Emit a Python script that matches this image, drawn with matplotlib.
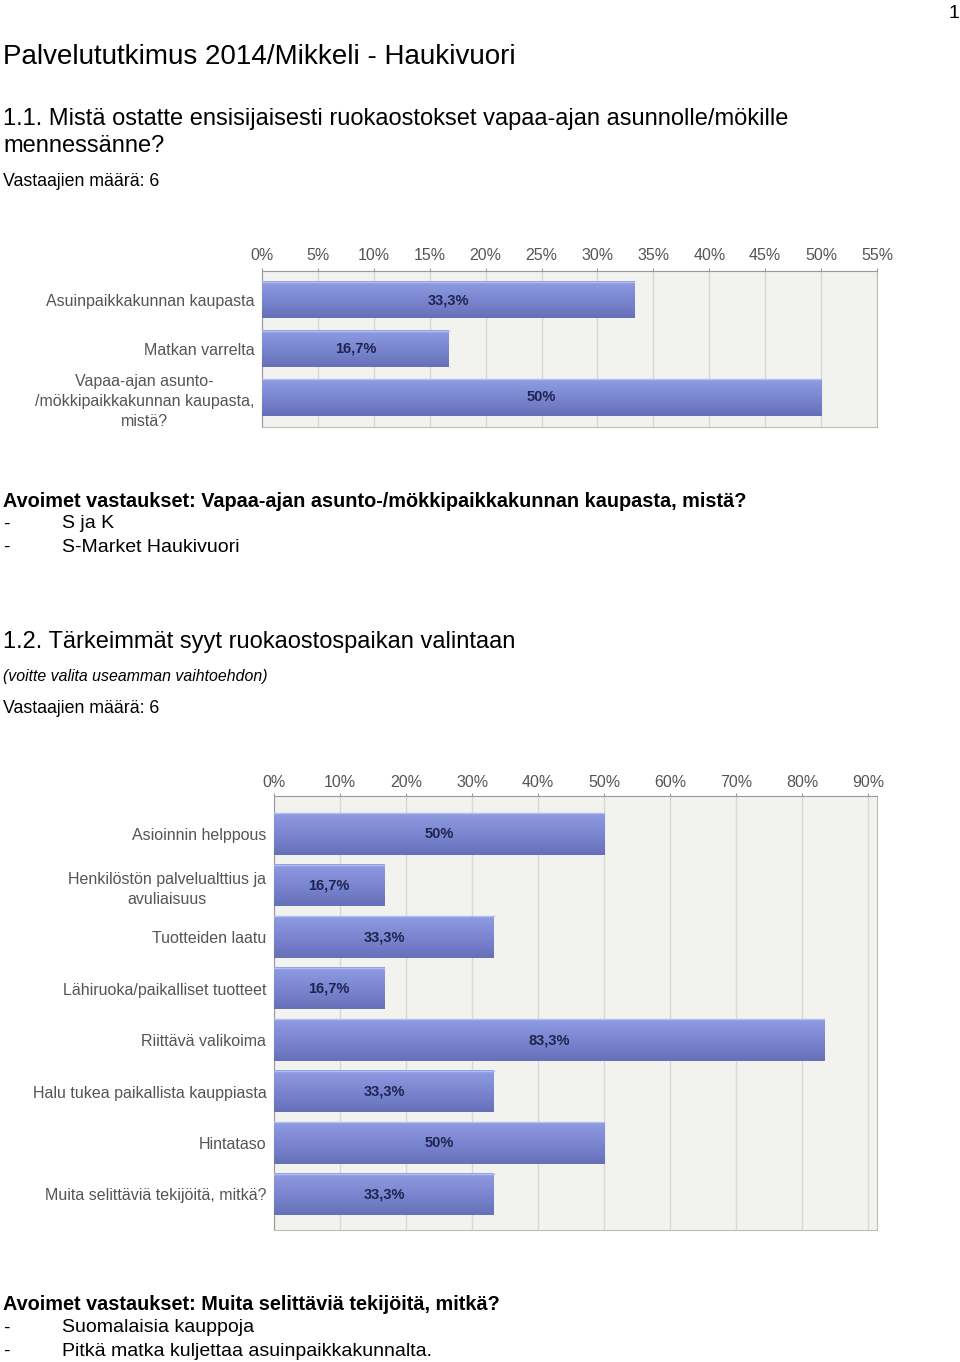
import numpy as np
import matplotlib.pyplot as plt
from matplotlib.colors import LinearSegmentedColormap

# --- data ---
q1_labels = ["Asuinpaikkakunnan kaupasta", "Matkan varrelta",
             "Vapaa-ajan asunto-\n/mökkipaikkakunnan kaupasta,\nmistä?"]
q1_values = [33.3, 16.7, 50.0]
q1_ticks = list(range(0, 56, 5))

q2_labels = ["Asioinnin helppous", "Henkilöstön palvelualttius ja\navuliaisuus",
             "Tuotteiden laatu", "Lähiruoka/paikalliset tuotteet",
             "Riittävä valikoima", "Halu tukea paikallista kauppiasta",
             "Hintataso", "Muita selittäviä tekijöitä, mitkä?"]
q2_values = [50.0, 16.7, 33.3, 16.7, 83.3, 33.3, 50.0, 33.3]
q2_ticks = list(range(0, 91, 10))

W, H = 960, 1362
fig = plt.figure(figsize=(W / 100, H / 100), dpi=100)
fig.patch.set_facecolor("white")

TXT = ["Liberation Sans", "DejaVu Sans"]
grad = LinearSegmentedColormap.from_list("bar", ["#8e9ce2", "#7a87d0", "#6670b9"])


def ftext(x, y, s, size, **kw):
    kw.setdefault("ha", "left")
    fig.text(x / W, 1 - y / H, s, fontsize=size, family=TXT, va="center", **kw)


def fmt(v):
    s = f"{v:.1f}".replace(".", ",")
    return s[:-2] + "%" if s.endswith(",0") else s + "%"


def chart(rect, labels, values, ticks, xmax, top, bottom, bh, xpad):
    ax = fig.add_axes(rect)
    ax.set_facecolor("#f2f3ef")
    y = np.arange(len(values))
    bars = ax.barh(y, values, height=bh, color="none", zorder=3)
    img = np.linspace(0, 1, 50).reshape(-1, 1)
    for b, v in zip(bars, values):
        x0, y0, w, h = b.get_x(), b.get_y(), b.get_width(), b.get_height()
        ax.imshow(img, extent=(x0, x0 + w, y0 + h, y0), aspect="auto", cmap=grad,
                  zorder=3, interpolation="bilinear")
        ax.plot([x0, x0 + w], [y0, y0], color="#b4bdf0", lw=1, zorder=4)
        ax.text(x0 + w / 2, y0 + h / 2, fmt(v), ha="center", va="center", fontsize=10.5,
                fontweight="bold", color="#1e2350", family=TXT, zorder=5)
    ax.set_xlim(0, xmax)
    ax.set_ylim(bottom, top)
    ax.set_xticks(ticks)
    ax.set_xticklabels([f"{t}%" for t in ticks], family=TXT, fontsize=11.5, color="#555555")
    ax.xaxis.tick_top()
    ax.tick_params(axis="x", length=2.5, color="#999999", pad=xpad)
    ax.set_yticks(y)
    ax.set_yticklabels(labels, family=TXT, fontsize=11.5, color="#555555",
                       multialignment="center", linespacing=1.45)
    ax.tick_params(axis="y", length=0, pad=5.5)
    ax.grid(axis="x", color="#d8d8d8", lw=1, zorder=0)
    ax.set_axisbelow(True)
    for s in ax.spines.values():
        s.set_color("#bcbcbc")
    ax.spines["left"].set_color("#999999")
    ax.spines["top"].set_color("#999999")
    return ax


ftext(959, 13, "1", 14, ha="right")
ftext(3, 57, "Palvelututkimus 2014/Mikkeli - Haukivuori", 20)
ftext(3, 119, "1.1. Mistä ostatte ensisijaisesti ruokaostokset vapaa-ajan asunnolle/mökille", 17)
ftext(3, 146, "mennessänne?", 17)
ftext(3, 181, "Vastaajien määrä: 6", 12.8)

chart([262 / W, 1 - 427 / H, 615 / W, 156 / H], q1_labels, q1_values, q1_ticks, 55,
      -0.6, 2.61, 0.75, 3)

ftext(3, 501, "Avoimet vastaukset: Vapaa-ajan asunto-/mökkipaikkakunnan kaupasta, mistä?", 14.3,
      fontweight="bold")
ftext(3, 524, "-", 14)
ftext(62, 524, "S ja K", 14)
ftext(3, 547, "-", 14)
ftext(62, 547, "S-Market Haukivuori", 14)

ftext(3, 642, "1.2. Tärkeimmät syyt ruokaostospaikan valintaan", 17)
ftext(3, 677, "(voitte valita useamman vaihtoehdon)", 11.4, style="italic")
ftext(3, 708, "Vastaajien määrä: 6", 12.8)

chart([274 / W, 1 - 1230 / H, 603 / W, 434 / H], q2_labels, q2_values, q2_ticks, 91.3,
      -0.74, 7.69, 0.81, 2)

ftext(3, 1305, "Avoimet vastaukset: Muita selittäviä tekijöitä, mitkä?", 14.3, fontweight="bold")
ftext(3, 1328, "-", 14)
ftext(62, 1328, "Suomalaisia kauppoja", 14)
ftext(3, 1351, "-", 14)
ftext(62, 1351, "Pitkä matka kuljettaa asuinpaikkakunnalta.", 14)

fig.savefig("out.png", dpi=100)
